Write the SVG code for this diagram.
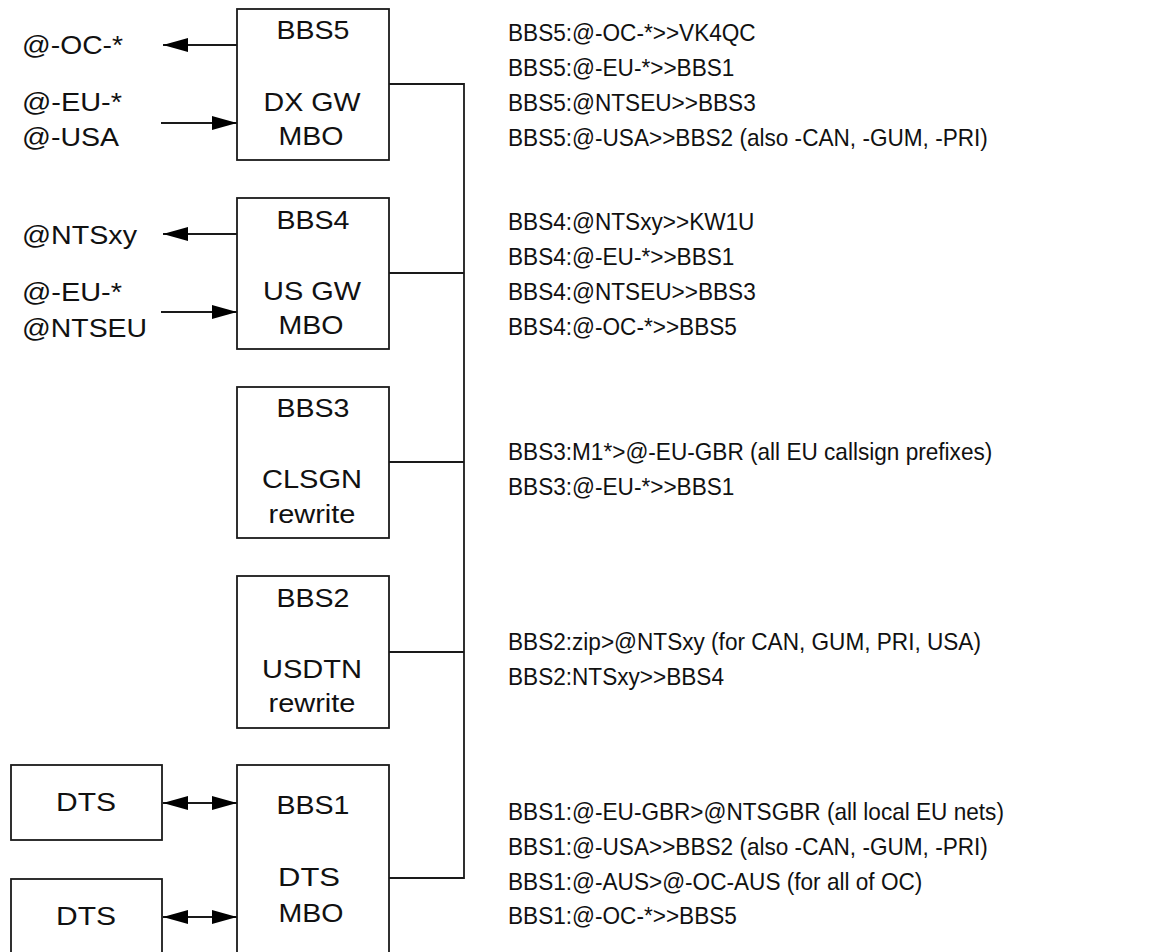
<svg xmlns="http://www.w3.org/2000/svg" width="1166" height="952" viewBox="0 0 1166 952">
<style>
.box{fill:#fff;stroke:#1a1a1a;stroke-width:1.8}
.ln{fill:none;stroke:#1a1a1a;stroke-width:1.8}
.t{font-family:"Liberation Sans",Arial,sans-serif;font-size:25.5px;fill:#111}
.c{text-anchor:middle}
.r{font-family:"Liberation Sans",Arial,sans-serif;font-size:24px;fill:#111}
</style>
<defs>
<marker id="ah" markerUnits="userSpaceOnUse" markerWidth="26" markerHeight="16" refX="25" refY="7" orient="auto-start-reverse" viewBox="0 0 26 14">
<path d="M0,0 L25,7 L0,14 Z" fill="#000"/>
</marker>
</defs>
<rect width="1166" height="952" fill="#fff"/>
<g id="connectors">
<path class="ln" d="M389,84 H464 V878 H389"/>
<path class="ln" d="M389,273 H464"/>
<path class="ln" d="M389,462 H464"/>
<path class="ln" d="M389,652 H464"/>
<line class="ln" x1="237" y1="45" x2="163" y2="45" marker-end="url(#ah)"/>
<line class="ln" x1="161" y1="123" x2="237" y2="123" marker-end="url(#ah)"/>
<line class="ln" x1="237" y1="234" x2="163" y2="234" marker-end="url(#ah)"/>
<line class="ln" x1="161" y1="312" x2="237" y2="312" marker-end="url(#ah)"/>
<line class="ln" x1="163" y1="803" x2="237" y2="803" marker-start="url(#ah)" marker-end="url(#ah)"/>
<line class="ln" x1="163" y1="917" x2="237" y2="917" marker-start="url(#ah)" marker-end="url(#ah)"/>
</g>
<g id="labels-left">
<text class="t" x="22" y="54" textLength="101" lengthAdjust="spacingAndGlyphs">@-OC-*</text>
<text class="t" x="22" y="111" textLength="100" lengthAdjust="spacingAndGlyphs">@-EU-*</text>
<text class="t" x="22" y="146" textLength="97" lengthAdjust="spacingAndGlyphs">@-USA</text>
<text class="t" x="22" y="244" textLength="115" lengthAdjust="spacingAndGlyphs">@NTSxy</text>
<text class="t" x="22" y="301" textLength="100" lengthAdjust="spacingAndGlyphs">@-EU-*</text>
<text class="t" x="22" y="337" textLength="125" lengthAdjust="spacingAndGlyphs">@NTSEU</text>
</g>
<g id="bbs5">
<rect class="box" x="237" y="9" width="152" height="151"/>
<text class="t c" x="313" y="39" textLength="73" lengthAdjust="spacingAndGlyphs">BBS5</text>
<text class="t c" x="312" y="111" textLength="97" lengthAdjust="spacingAndGlyphs">DX GW</text>
<text class="t c" x="311" y="145" textLength="65" lengthAdjust="spacingAndGlyphs">MBO</text>
</g>
<g id="bbs4">
<rect class="box" x="237" y="198" width="152" height="151"/>
<text class="t c" x="313" y="229" textLength="73" lengthAdjust="spacingAndGlyphs">BBS4</text>
<text class="t c" x="312" y="300" textLength="98" lengthAdjust="spacingAndGlyphs">US GW</text>
<text class="t c" x="311" y="334" textLength="65" lengthAdjust="spacingAndGlyphs">MBO</text>
</g>
<g id="bbs3">
<rect class="box" x="237" y="387" width="152" height="151"/>
<text class="t c" x="313" y="417" textLength="73" lengthAdjust="spacingAndGlyphs">BBS3</text>
<text class="t c" x="312" y="488" textLength="100" lengthAdjust="spacingAndGlyphs">CLSGN</text>
<text class="t c" x="312" y="523" textLength="87" lengthAdjust="spacingAndGlyphs">rewrite</text>
</g>
<g id="bbs2">
<rect class="box" x="237" y="576" width="152" height="152"/>
<text class="t c" x="313" y="607" textLength="73" lengthAdjust="spacingAndGlyphs">BBS2</text>
<text class="t c" x="312" y="678" textLength="100" lengthAdjust="spacingAndGlyphs">USDTN</text>
<text class="t c" x="312" y="712" textLength="87" lengthAdjust="spacingAndGlyphs">rewrite</text>
</g>
<g id="bbs1">
<rect class="box" x="237" y="765" width="152" height="240"/>
<text class="t c" x="313" y="814" textLength="73" lengthAdjust="spacingAndGlyphs">BBS1</text>
<text class="t c" x="309" y="886" textLength="62" lengthAdjust="spacingAndGlyphs">DTS</text>
<text class="t c" x="311" y="922" textLength="65" lengthAdjust="spacingAndGlyphs">MBO</text>
</g>
<g id="dts1">
<rect class="box" x="11" y="765" width="151" height="75"/>
<text class="t c" x="86" y="811" textLength="60" lengthAdjust="spacingAndGlyphs">DTS</text>
</g>
<g id="dts2">
<rect class="box" x="11" y="879" width="151" height="90"/>
<text class="t c" x="86" y="925" textLength="60" lengthAdjust="spacingAndGlyphs">DTS</text>
</g>
<g id="rules" transform="translate(508,0) scale(0.942,1) translate(-508,0)">
<g id="rules-bbs5">
<text class="r" x="508" y="41">BBS5:@-OC-*&gt;&gt;VK4QC</text>
<text class="r" x="508" y="76">BBS5:@-EU-*&gt;&gt;BBS1</text>
<text class="r" x="508" y="111">BBS5:@NTSEU&gt;&gt;BBS3</text>
<text class="r" x="508" y="146">BBS5:@-USA&gt;&gt;BBS2 (also -CAN, -GUM, -PRI)</text>
</g>
<g id="rules-bbs4">
<text class="r" x="508" y="230">BBS4:@NTSxy&gt;&gt;KW1U</text>
<text class="r" x="508" y="265">BBS4:@-EU-*&gt;&gt;BBS1</text>
<text class="r" x="508" y="300">BBS4:@NTSEU&gt;&gt;BBS3</text>
<text class="r" x="508" y="335">BBS4:@-OC-*&gt;&gt;BBS5</text>
</g>
<g id="rules-bbs3">
<text class="r" x="508" y="460">BBS3:M1*&gt;@-EU-GBR (all EU callsign prefixes)</text>
<text class="r" x="508" y="495">BBS3:@-EU-*&gt;&gt;BBS1</text>
</g>
<g id="rules-bbs2">
<text class="r" x="508" y="650">BBS2:zip&gt;@NTSxy (for CAN, GUM, PRI, USA)</text>
<text class="r" x="508" y="685">BBS2:NTSxy&gt;&gt;BBS4</text>
</g>
<g id="rules-bbs1">
<text class="r" x="508" y="820">BBS1:@-EU-GBR&gt;@NTSGBR (all local EU nets)</text>
<text class="r" x="508" y="855">BBS1:@-USA&gt;&gt;BBS2 (also -CAN, -GUM, -PRI)</text>
<text class="r" x="508" y="890">BBS1:@-AUS&gt;@-OC-AUS (for all of OC)</text>
<text class="r" x="508" y="924">BBS1:@-OC-*&gt;&gt;BBS5</text>
</g>
</g>
</svg>
